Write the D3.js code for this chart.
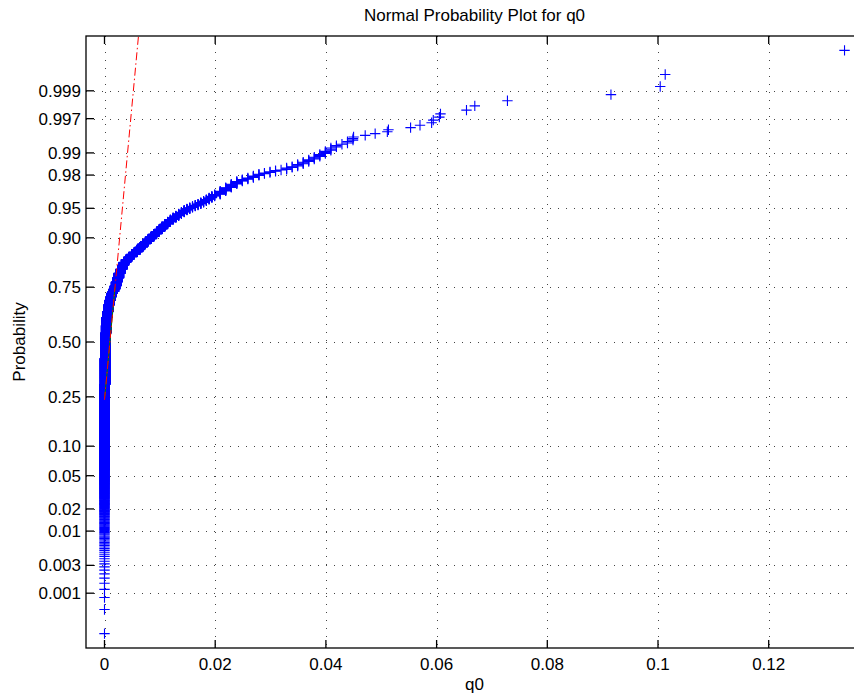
<!DOCTYPE html>
<html>
<head>
<meta charset="utf-8">
<script src="https://cdn.jsdelivr.net/npm/d3@7"></script>
<style>
  body { margin: 0; background: #fff; }
  text { font-family: "Liberation Sans", Arial, Helvetica, sans-serif; fill: #000; }
</style>
</head>
<body>
<svg id="chart" width="854" height="700"></svg>
<script>
const q0Levels = [
  0, 0.00005, 0.0001, 0.00015, 0.0002, 0.0003, 0.0004, 0.0005, 0.0007, 0.0009,
  0.0011, 0.0013, 0.0015, 0.0017, 0.0019, 0.0021, 0.0023, 0.0026, 0.0029, 0.0032,
  0.0035, 0.0039, 0.0044, 0.0049, 0.0054, 0.0059, 0.0064, 0.0069, 0.0074, 0.0079,
  0.0084, 0.0089, 0.0094, 0.0099, 0.0104, 0.0109, 0.0114, 0.0119, 0.0124, 0.0129,
  0.0134, 0.0139, 0.0144, 0.0149, 0.0154, 0.0159, 0.0164, 0.0169, 0.0174, 0.0179,
  0.0184, 0.0189, 0.0194, 0.0199, 0.0209, 0.0219, 0.0229, 0.0239, 0.0249, 0.0259,
  0.0269, 0.0279, 0.0289, 0.0299, 0.0309, 0.0319, 0.0329, 0.0339, 0.0349, 0.0359,
  0.0369, 0.0379, 0.0389, 0.0399, 0.0409, 0.0419, 0.0429, 0.0439, 0.0449
];
const q0Counts = [
  600, 300, 360, 240, 130, 110, 115, 80, 90, 60,
  45, 45, 20, 30, 37, 45, 45, 50, 40, 35,
  30, 25, 23, 22, 18, 18, 20, 23, 17, 17,
  15, 16, 15, 14, 14, 13, 11, 11, 9, 8,
  9, 7, 8, 5, 5, 5, 4, 4, 5, 5,
  5, 5, 5, 5, 9, 9, 8, 6, 4, 3,
  4, 3, 2, 2, 2, 1, 3, 2, 3, 3,
  3, 3, 3, 3, 3, 2, 1, 2, 2
];
// single observations in the upper tail
const q0Tail = [
  0.0450, 0.0471, 0.0489, 0.0511, 0.0513, 0.0553, 0.0570, 0.0591, 0.0594,
  0.0605, 0.0607, 0.0654, 0.0669, 0.0728, 0.0915, 0.1004, 0.1013, 0.1337
];

const probTicks = [0.001, 0.003, 0.01, 0.02, 0.05, 0.10, 0.25, 0.50, 0.75, 0.90, 0.95, 0.98, 0.99, 0.997, 0.999];
const probLabels = ["0.001", "0.003", "0.01", "0.02", "0.05", "0.10", "0.25", "0.50", "0.75", "0.90", "0.95", "0.98", "0.99", "0.997", "0.999"];
const xTicks = [0, 0.02, 0.04, 0.06, 0.08, 0.1, 0.12];

// inverse normal cdf (Acklam)
function norminv(p) {
  const a = [-39.69683028665376, 220.9460984245205, -275.9285104469687, 138.3577518672690, -30.66479806614716, 2.506628277459239];
  const b = [-54.47609879822406, 161.5858368580409, -155.6989798598866, 66.80131188771972, -13.28068155288572];
  const c = [-0.007784894002430293, -0.3223964580411365, -2.400758277161838, -2.549732539343734, 4.374664141464968, 2.938163982698783];
  const d = [0.007784695709041462, 0.3224671290700398, 2.445134137142996, 3.754408661907416];
  const pl = 0.02425;
  let q, r;
  if (p < pl) {
    q = Math.sqrt(-2 * Math.log(p));
    return (((((c[0]*q+c[1])*q+c[2])*q+c[3])*q+c[4])*q+c[5]) / ((((d[0]*q+d[1])*q+d[2])*q+d[3])*q+1);
  }
  if (p <= 1 - pl) {
    q = p - 0.5; r = q * q;
    return (((((a[0]*r+a[1])*r+a[2])*r+a[3])*r+a[4])*r+a[5])*q / (((((b[0]*r+b[1])*r+b[2])*r+b[3])*r+b[4])*r+1);
  }
  q = Math.sqrt(-2 * Math.log(1 - p));
  return -(((((c[0]*q+c[1])*q+c[2])*q+c[3])*q+c[4])*q+c[5]) / ((((d[0]*q+d[1])*q+d[2])*q+d[3])*q+1);
}

// sorted sample
const values = [];
q0Levels.forEach((v, i) => { for (let k = 0; k < q0Counts[i]; k++) values.push(v); });
q0Tail.forEach(v => values.push(v));
values.sort(d3.ascending);
const n = values.length;
const pts = values.map((v, i) => ({ x: v, z: norminv((i + 0.5) / n) }));

const svg = d3.select("#chart");
const L = 86, T = 36, B = 648;
const minx = values[0], maxx = values[n - 1];
const pad = (maxx - minx) * 0.025;
const pxPerUnit = 5535;
const R = L + (maxx - minx + 2 * pad) * pxPerUnit;

const x = d3.scaleLinear().domain([minx - pad, maxx + pad]).range([L, R]);
const zlim = -norminv(0.25 / n);
const y = d3.scaleLinear().domain([-zlim, zlim]).range([B, T]);

svg.append("defs").append("clipPath").attr("id", "plotclip")
  .append("rect").attr("x", L).attr("y", T).attr("width", R - L).attr("height", B - T);

// grid
const grid = svg.append("g").attr("stroke", "#444").attr("stroke-width", 1).attr("stroke-dasharray", "1,7");
grid.selectAll("line.vx").data(xTicks).join("line")
  .attr("x1", d => Math.round(x(d)) + 0.5).attr("x2", d => Math.round(x(d)) + 0.5)
  .attr("y1", T).attr("y2", B);
grid.selectAll("line.hy").data(probTicks).join("line")
  .attr("y1", d => Math.round(y(norminv(d))) + 0.5).attr("y2", d => Math.round(y(norminv(d))) + 0.5)
  .attr("x1", L).attr("x2", R);

// data markers
const plot = svg.append("g").attr("clip-path", "url(#plotclip)");
const ms = 5.2;
plot.append("g").attr("stroke", "#0000ff").attr("stroke-width", 1.1).attr("fill", "none")
  .selectAll("path").data(pts).join("path")
  .attr("d", d => {
    const cx = x(d.x), cy = y(d.z);
    return `M${cx - ms},${cy}H${cx + ms}M${cx},${cy - ms}V${cy + ms}`;
  });

// reference line through the quartiles
const q1 = d3.quantileSorted(values, 0.25), q3 = d3.quantileSorted(values, 0.75);
const z1 = norminv(0.25), z3 = norminv(0.75);
const slope = (z3 - z1) / (q3 - q1);
const lineZ = v => z1 + (v - q1) * slope;

plot.append("line")
  .attr("x1", x(q1)).attr("y1", y(z1)).attr("x2", x(q3)).attr("y2", y(z3))
  .attr("stroke", "#008000").attr("stroke-width", 1);
plot.append("line")
  .attr("x1", x(minx)).attr("y1", y(lineZ(minx))).attr("x2", x(maxx)).attr("y2", y(lineZ(maxx)))
  .attr("stroke", "#ff0000").attr("stroke-width", 1).attr("stroke-dasharray", "8,3,1.5,3");

// axes box and ticks
const ax = svg.append("g").attr("stroke", "#000").attr("stroke-width", 1.3).attr("fill", "none");
ax.append("rect").attr("x", L).attr("y", T).attr("width", R - L).attr("height", B - T);
const tl = 8;
ax.selectAll("line.xb").data(xTicks).join("line")
  .attr("x1", d => x(d)).attr("x2", d => x(d)).attr("y1", B).attr("y2", B - tl);
ax.selectAll("line.xt").data(xTicks).join("line")
  .attr("x1", d => x(d)).attr("x2", d => x(d)).attr("y1", T).attr("y2", T + tl);
ax.selectAll("line.yl").data(probTicks).join("line")
  .attr("x1", L).attr("x2", L + tl).attr("y1", d => y(norminv(d))).attr("y2", d => y(norminv(d)));

// tick labels
svg.append("g").selectAll("text").data(xTicks).join("text")
  .attr("x", d => x(d)).attr("y", 670).attr("text-anchor", "middle")
  .attr("font-size", 17).text(d => d3.format("~g")(d));
svg.append("g").selectAll("text").data(probTicks).join("text")
  .attr("x", 81).attr("y", d => y(norminv(d)) + 6).attr("text-anchor", "end")
  .attr("font-size", 17).text((d, i) => probLabels[i]);

// titles
svg.append("text").attr("x", (L + R) / 2).attr("y", 21).attr("text-anchor", "middle")
  .attr("font-size", 17).text("Normal Probability Plot for q0");
svg.append("text").attr("x", (L + R) / 2).attr("y", 690).attr("text-anchor", "middle")
  .attr("font-size", 17).text("q0");
svg.append("text").attr("transform", "translate(25,342) rotate(-90)").attr("text-anchor", "middle")
  .attr("font-size", 17).text("Probability");
</script>
</body>
</html>
